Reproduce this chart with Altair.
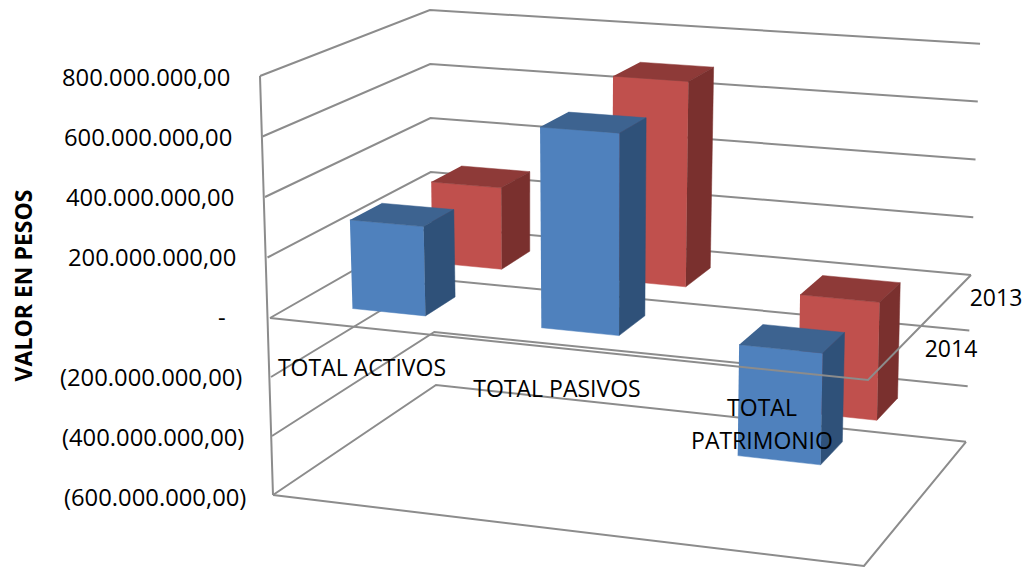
import altair as alt
import pandas as pd

# ---- chart values (millions of pesos) ----
categories = ["TOTAL ACTIVOS", "TOTAL PASIVOS", "TOTAL PATRIMONIO"]
series_names = ["2014", "2013"]
values_2014 = [296, 655, -358]
values_2013 = [285, 703, -400]
tick_values = [800, 600, 400, 200, 0, -200, -400, -600]
tick_labels = ["800.000.000,00", "600.000.000,00", "400.000.000,00", "200.000.000,00",
               "-", "(200.000.000,00)", "(400.000.000,00)", "(600.000.000,00)"]

# ---- 3D layout: corners of the plane value = 0 and of the scale around it ----
FONT = "Open Sans"
GRID = "#8c8c8c"
ZERO = {"FL": (270, 318), "FR": (868, 380), "BL": (431, 226), "BR": (971, 275)}
UP = {"FL": (-.0125, .3025), "FR": (.01, .325), "BL": (-.0014, .27), "BR": (.0113, .289)}
DOWN = {"FL": (-.005, .295), "FR": (.0067, .31), "BL": (-.0083, .265), "BR": (.0083, .278)}
SLOT_U = [0.157, 0.482, 0.823]
BAR_W = [0.124, 0.132, 0.142]
DEPTH = {"2014": (0.165, 0.365), "2013": (0.66, 0.85)}
SERIES_SHIFT = {"2014": 0.0, "2013": 0.005}
NEG_TOP = 10      # negative bars start a little above the plane, as drawn in the source
LEFT, TOP, RIGHT, BOTTOM = 252, 8, 1023, 567
# where each tick label starts, in pixels
LABEL_X = [62, 64, 66, 68, 218, 60, 62, 64]


def bil(tbl, u, d, i):
    return ((1 - u) * (1 - d) * tbl["FL"][i] + u * (1 - d) * tbl["FR"][i]
            + (1 - u) * d * tbl["BL"][i] + u * d * tbl["BR"][i])


def project(u, d, v):
    """Return (x px, y as value-axis units) for a point of the 3D box."""
    rates = UP if v >= 0 else DOWN
    x = bil(ZERO, u, d, 0) + bil(rates, u, d, 0) * v
    y = bil(ZERO, u, d, 1) - bil(rates, u, d, 1) * v
    return x, (318 - y) / 0.3


def px(x, y):
    return x, (318 - y) / 0.3


x_scale = alt.Scale(domain=[0, RIGHT], range=[-LEFT, RIGHT - LEFT], nice=False, zero=False)
y_scale = alt.Scale(domain=[(318 - BOTTOM) / 0.3, (318 - TOP) / 0.3], nice=False, zero=False)
y_enc = alt.Y("y:Q", scale=y_scale,
              axis=alt.Axis(values=tick_values, labels=False,
                            title="VALOR EN PESOS", titleFont=FONT, titleFontSize=23, titleFontWeight="bold",
                            titleColor="black", titleX=-216, titleY=277, tickSize=0, domain=False, grid=False))
x_enc = alt.X("x:Q", scale=x_scale, axis=None)

# ---- walls: lines for every tick ----
rows = []
for v in tick_values:
    for s, (u, d) in enumerate([(0, 0), (0, 1), (1, 1)]):
        x, y = project(u, d, v)
        rows.append(dict(line=f"w{v}", s=s, x=x, y=y))
for s, v in enumerate([800, -600]):
    x, y = project(0, 0, v)
    rows.append(dict(line="axis", s=s, x=x, y=y))
floor = [(0, 0), (1, 0), (1, 1)]
for s, (u, d) in enumerate(floor):
    x, y = project(u, d, -600)
    rows.append(dict(line="floor", s=s, x=x, y=y))
grid_df = pd.DataFrame(rows)
plane = []
for s, (u, d) in enumerate(floor):
    x, y = project(u, d, 0)
    plane.append(dict(line="zero", s=s, x=x, y=y))
plane_df = pd.DataFrame(plane)


def lines(df):
    return alt.Chart(df).mark_line(color=GRID, strokeWidth=2, clip=True).encode(
        x=x_enc, y=y_enc, detail="line:N", order="s:Q")


# ---- bars: three faces per bar ----
def faces(series, vals):
    front, top, side = [], [], []
    d0, d1 = DEPTH[series]
    for i, v in enumerate(vals):
        c = SLOT_U[i] + SERIES_SHIFT[series]
        u0, u1 = c - BAR_W[i] / 2, c + BAR_W[i] / 2
        hi = v if v > 0 else NEG_TOP
        lo = min(v, 0)
        for s, (u, d, w) in enumerate([(u0, d0, lo), (u1, d0, lo), (u1, d0, hi), (u0, d0, hi)]):
            x, y = project(u, d, w); front.append(dict(p=i, s=s, x=x, y=y))
        for s, (u, d, w) in enumerate([(u0, d0, hi), (u1, d0, hi), (u1, d1, hi), (u0, d1, hi)]):
            x, y = project(u, d, w); top.append(dict(p=i, s=s, x=x, y=y))
        for s, (u, d, w) in enumerate([(u1, d0, lo), (u1, d1, lo), (u1, d1, hi), (u1, d0, hi)]):
            x, y = project(u, d, w); side.append(dict(p=i, s=s, x=x, y=y))
    return front, top, side


def poly(rows, colour):
    return alt.Chart(pd.DataFrame(rows)).mark_line(fill=colour, stroke=colour, strokeWidth=0.5, clip=True).encode(
        x=x_enc, y=y_enc, detail="p:N", order="s:Q")


layers = [lines(grid_df)]
palette = {"2013": ("#C0504D", "#8E3A38", "#7A302E"), "2014": ("#4F81BD", "#3D6390", "#2F5179")}
for name, vals in (("2013", values_2013), ("2014", values_2014)):
    for rows_, colour in zip(faces(name, vals), palette[name]):
        layers.append(poly(rows_, colour))
layers.append(lines(plane_df))

# ---- real text labels ----
texts = []
cat_pos = [(362, 369), (557, 390)]
for c, (x, y) in zip(categories[:2], cat_pos):
    X, Y = px(x, y); texts.append(dict(x=X, y=Y, t=c))
for t, (x, y) in zip(categories[2].split(" "), [(762, 409), (762, 442)]):
    X, Y = px(x, y); texts.append(dict(x=X, y=Y, t=t))
for t, (x, y) in zip(series_names, [(951, 350), (996, 299)]):
    X, Y = px(x, y); texts.append(dict(x=X, y=Y, t=t))
text_layer = alt.Chart(pd.DataFrame(texts)).mark_text(font=FONT, fontSize=23, color="black", align="center", baseline="middle").encode(
    x=x_enc, y=y_enc, text="t:N")
layers.append(text_layer)

tick_df = pd.DataFrame({"x": LABEL_X, "y": tick_values, "t": tick_labels})
tick_layer = alt.Chart(tick_df).mark_text(font=FONT, fontSize=23.8, color="black", align="left", baseline="middle", clip=False, dy=1).encode(
    x=x_enc, y=y_enc, text="t:N")
layers.append(tick_layer)

chart = alt.layer(*layers).properties(
    width=RIGHT - LEFT, height=BOTTOM - TOP,
    autosize=alt.AutoSizeParams(type="none"),
    padding={"left": LEFT - 8, "top": 0, "right": 0, "bottom": 0},
    background="white",
).configure_view(stroke=None)

chart.save("out.html", embed_options={"renderer": "svg", "actions": False})
